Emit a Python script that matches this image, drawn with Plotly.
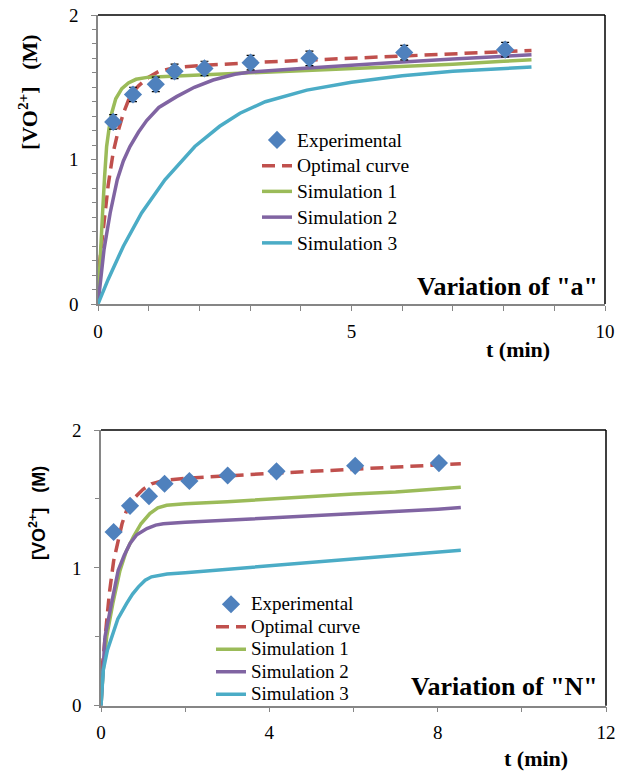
import plotly.graph_objects as go

W, H = 632, 772

def px(x):
    return x / W

def py(y):
    return 1 - y / H

# Experimental data (same in both panels)
t_exp = [0.30, 0.69, 1.14, 1.51, 2.10, 3.01, 4.17, 6.04, 8.03]
y_exp = [1.26, 1.45, 1.52, 1.61, 1.63, 1.67, 1.70, 1.74, 1.76]
err_exp = [0.05, 0.05, 0.05, 0.05, 0.05, 0.05, 0.05, 0.05, 0.05]

# Optimal curve (same in both panels)
t_opt = [0.02, 0.1, 0.2, 0.3, 0.4, 0.5, 0.6, 0.7, 0.8, 1.0, 1.2, 1.5, 2, 3, 4, 5, 6, 7, 8, 8.55]
y_opt = [0.25, 0.5, 0.82, 1.05, 1.2, 1.32, 1.41, 1.47, 1.51, 1.57, 1.61, 1.635, 1.65, 1.67, 1.685, 1.70, 1.715, 1.73, 1.745, 1.755]

# Variation of "a"
t_a1 = [0, 0.02, 0.05, 0.09, 0.13, 0.17, 0.22, 0.27, 0.35, 0.47, 0.6, 0.75, 1.0, 2, 3, 4, 5, 6, 7, 8, 8.55]
y_a1 = [0, 0.17, 0.4, 0.63, 0.88, 1.09, 1.22, 1.32, 1.42, 1.49, 1.53, 1.555, 1.57, 1.585, 1.6, 1.61, 1.625, 1.64, 1.66, 1.68, 1.69]
t_a2 = [0, 0.05, 0.12, 0.24, 0.38, 0.5, 0.63, 0.8, 0.96, 1.2, 1.55, 1.9, 2.27, 2.7, 3, 4, 5, 6, 7, 8, 8.55]
y_a2 = [0, 0.17, 0.38, 0.63, 0.86, 0.99, 1.09, 1.19, 1.27, 1.36, 1.435, 1.50, 1.55, 1.59, 1.605, 1.63, 1.655, 1.675, 1.695, 1.715, 1.725]
t_a3 = [0, 0.2, 0.5, 0.86, 1.32, 1.91, 2.4, 2.8, 3.3, 4.12, 5, 6, 7, 8, 8.55]
y_a3 = [0, 0.17, 0.40, 0.63, 0.86, 1.09, 1.23, 1.32, 1.40, 1.48, 1.535, 1.58, 1.61, 1.63, 1.64]

# Variation of "N"
t_n1 = [0, 0.05, 0.135, 0.28, 0.45, 0.6, 0.77, 0.95, 1.16, 1.35, 1.56, 2, 3, 4, 5, 6, 7, 8, 8.55]
y_n1 = [0, 0.25, 0.5, 0.74, 0.98, 1.12, 1.225, 1.32, 1.394, 1.435, 1.454, 1.465, 1.48, 1.50, 1.515, 1.535, 1.55, 1.57, 1.585]
t_n2 = [0, 0.03, 0.095, 0.25, 0.41, 0.55, 0.69, 0.85, 1.09, 1.3, 1.48, 2, 3, 4, 5, 6, 7, 8, 8.55]
y_n2 = [0, 0.2, 0.5, 0.742, 0.983, 1.09, 1.177, 1.24, 1.285, 1.31, 1.32, 1.33, 1.345, 1.36, 1.375, 1.39, 1.405, 1.425, 1.437]
t_n3 = [0, 0.02, 0.055, 0.15, 0.25, 0.4, 0.61, 0.75, 0.89, 1.05, 1.2, 1.57, 2, 3, 4, 5, 6, 7, 8, 8.55]
y_n3 = [0, 0.12, 0.26, 0.40, 0.50, 0.63, 0.742, 0.81, 0.862, 0.91, 0.935, 0.955, 0.965, 0.99, 1.015, 1.04, 1.065, 1.09, 1.115, 1.128]

names = ["Experimental", "Optimal curve", "Simulation 1", "Simulation 2", "Simulation 3"]
C_EXP, C_OPT, C_S1, C_S2, C_S3 = "#4F81BD", "#C0504D", "#9BBB59", "#8064A2", "#4BACC6"

SERIF = "Liberation Serif"
SANS = "Liberation Sans"

fig = go.Figure()

def lbl(s, size):
    return f'<span style="font-size:{size}px">{s}</span>'

def add_panel(xa, ya, leg, sims, errors, fs):
    fig.add_trace(go.Scatter(
        x=t_opt, y=y_opt, mode="lines", name=lbl(names[1], fs), legend=leg, legendrank=2,
        line=dict(color=C_OPT, width=3.5, dash="13px,7px"), xaxis=xa, yaxis=ya))
    for (tt, yy), nm, c, r in zip(sims, names[2:], [C_S1, C_S2, C_S3], [3, 4, 5]):
        fig.add_trace(go.Scatter(
            x=tt, y=yy, mode="lines", name=lbl(nm, fs), legend=leg, legendrank=r,
            line=dict(color=c, width=3.5), xaxis=xa, yaxis=ya))
    kw = {}
    if errors:
        kw["error_y"] = dict(type="data", array=err_exp, visible=True,
                             color="black", thickness=1.2, width=4)
    fig.add_trace(go.Scatter(
        x=t_exp, y=y_exp, mode="markers", name=lbl(names[0], fs), legend=leg, legendrank=1,
        marker=dict(symbol="diamond", size=14, color=C_EXP),
        xaxis=xa, yaxis=ya, **kw))

add_panel("x", "y", "legend", [(t_a1, y_a1), (t_a2, y_a2), (t_a3, y_a3)], True, 19.5)
add_panel("x2", "y2", "legend2", [(t_n1, y_n1), (t_n2, y_n2), (t_n3, y_n3)], False, 19)

AX_COLOR = "#868686"
tickfont = dict(family=SERIF, size=19, color="black")

def xaxis(domain, anchor, rng, dtick, mdtick):
    return dict(domain=domain, anchor=anchor, range=rng, dtick=dtick, tick0=0, automargin=False,
                showgrid=False, zeroline=False, showline=True, linecolor=AX_COLOR, linewidth=1.5,
                ticks="outside", ticklen=5, tickcolor=AX_COLOR, tickwidth=1,
                minor=dict(dtick=mdtick, ticks="outside", ticklen=5, tickcolor=AX_COLOR, tickwidth=1),
                tickfont=tickfont, ticklabelstandoff=4, ticklabeloverflow="allow")

def yaxis(domain, anchor, rng, dtick, mdtick):
    return dict(domain=domain, anchor=anchor, range=rng, dtick=dtick, tick0=0, automargin=False,
                showgrid=False, zeroline=False, showline=True, linecolor=AX_COLOR, linewidth=1.5,
                ticks="outside", ticklen=5, tickcolor=AX_COLOR, tickwidth=1,
                minor=dict(dtick=mdtick, ticks="outside", ticklen=4, tickcolor=AX_COLOR, tickwidth=1),
                tickfont=tickfont, ticklabelstandoff=9, ticklabeloverflow="allow")

xd1 = [px(98), px(605)]
yd1 = [py(304), py(15)]
xd2 = [px(101), px(606)]
yd2 = [py(705.7), py(430)]

fig.update_layout(
    width=W, height=H, margin=dict(l=0, r=0, t=0, b=0, pad=0, autoexpand=False),
    paper_bgcolor="white", plot_bgcolor="white",
    xaxis=xaxis(xd1, "y", [0, 10], 5, 1),
    yaxis=yaxis(yd1, "x", [0, 2], 1, 0.1),
    xaxis2=xaxis(xd2, "y2", [0, 12], 4, 2),
    yaxis2=yaxis(yd2, "x2", [0, 2], 1, 0.5),
    legend=dict(x=px(257), y=py(122), xanchor="left", yanchor="top",
                bgcolor="rgba(0,0,0,0)", borderwidth=0, tracegroupgap=0,
                font=dict(family=SERIF, size=17.5, color="black")),
    legend2=dict(x=px(211), y=py(588), xanchor="left", yanchor="top",
                 bgcolor="rgba(0,0,0,0)", borderwidth=0, tracegroupgap=0,
                 font=dict(family=SERIF, size=15, color="black")),
    showlegend=True,
)

# black plot-area border (top & right)
for xa, ya in [("x", "y"), ("x2", "y2")]:
    fig.add_shape(type="line", xref=f"{xa} domain", yref=f"{ya} domain",
                  x0=0, x1=1, y0=1, y1=1, line=dict(color="black", width=1.5))
    fig.add_shape(type="line", xref=f"{xa} domain", yref=f"{ya} domain",
                  x0=1, x1=1, y0=0, y1=1, line=dict(color="black", width=1.5))

ann = [
    dict(text="<b>[VO<sup>2+</sup>]&nbsp;&nbsp;&nbsp;(M)</b>", x=px(28), y=py(92), textangle=-90,
         font=dict(family=SERIF, size=22, color="black")),
    dict(text="<b>t (min)</b>", x=px(518), y=py(349),
         font=dict(family=SERIF, size=22, color="black")),
    dict(text='<b>Variation of "a"</b>', x=px(600), y=py(286), xanchor="right",
         font=dict(family=SERIF, size=26, color="black")),
    dict(text="<b>[VO<sup>2+</sup>]&nbsp;&nbsp;&nbsp;(M)</b>", x=px(37), y=py(513), textangle=-90,
         font=dict(family=SANS, size=18, color="black")),
    dict(text="<b>t (min)</b>", x=px(536), y=py(758),
         font=dict(family=SERIF, size=22, color="black")),
    dict(text='<b>Variation of "N"</b>', x=px(600), y=py(686), xanchor="right",
         font=dict(family=SERIF, size=26, color="black")),
]
for a in ann:
    a.setdefault("xanchor", "center")
    fig.add_annotation(xref="paper", yref="paper", showarrow=False, yanchor="middle", **a)

# remove the browser's default 8px body margin so the figure sits at the page origin
fig.write_html("out.html", config={"displayModeBar": False},
               post_script="document.body.style.margin='0';")
